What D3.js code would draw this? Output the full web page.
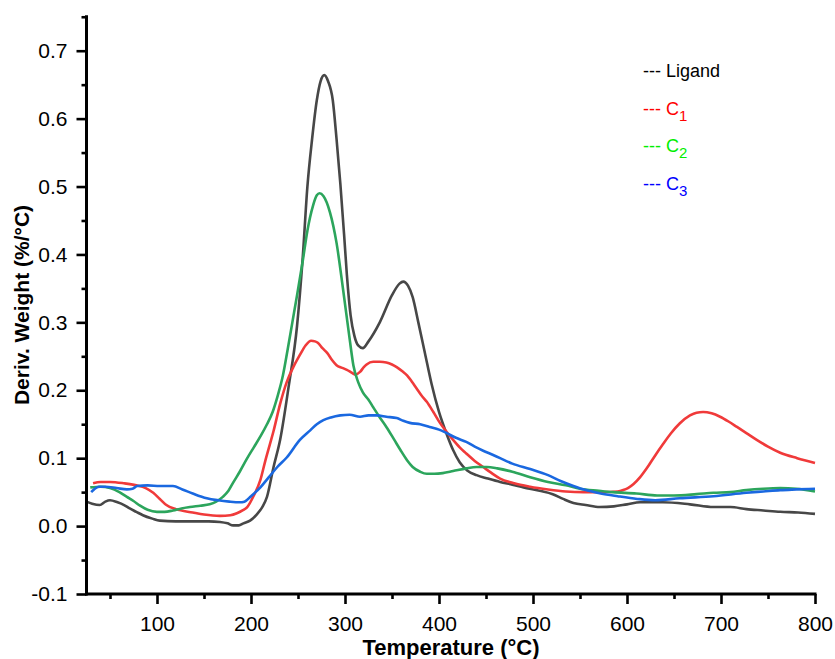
<!DOCTYPE html>
<html>
<head>
<meta charset="utf-8">
<script src="https://cdn.jsdelivr.net/npm/d3@7"></script>
<style>
  html, body { margin: 0; padding: 0; background: #fff; }
  svg { display: block; font-family: "Liberation Sans", Arial, sans-serif; }
</style>
</head>
<body>
<svg id="chart" width="835" height="659"></svg>
<script>
// ---------- DATA ----------
const ligandT = [25, 31, 39, 45, 50, 58, 65, 71, 78, 85, 95, 103, 120, 138, 155, 167, 175, 181, 187, 192, 199, 206, 212, 217, 224, 231, 240, 249, 255, 260, 265, 270, 274, 278, 282, 287, 291, 295, 299, 302, 306, 310, 314, 319, 325, 337, 350, 358, 362, 367, 372, 378, 385, 392, 400, 408, 415, 422, 430, 440, 452, 465, 478, 490, 507, 521, 532, 543, 556, 571, 586, 600, 614, 638, 667, 692, 710, 727, 745, 763, 782, 800];
const ligandV = [0.036, 0.033, 0.031, 0.036, 0.038, 0.035, 0.031, 0.026, 0.021, 0.016, 0.011, 0.008, 0.007, 0.007, 0.007, 0.006, 0.004, 0.001, 0.001, 0.004, 0.008, 0.017, 0.028, 0.043, 0.087, 0.127, 0.205, 0.295, 0.395, 0.500, 0.570, 0.627, 0.655, 0.664, 0.655, 0.627, 0.570, 0.505, 0.430, 0.370, 0.310, 0.280, 0.266, 0.262, 0.272, 0.300, 0.340, 0.357, 0.360, 0.354, 0.337, 0.300, 0.255, 0.210, 0.168, 0.136, 0.112, 0.094, 0.082, 0.075, 0.070, 0.065, 0.061, 0.057, 0.052, 0.047, 0.040, 0.034, 0.031, 0.028, 0.029, 0.032, 0.035, 0.035, 0.032, 0.028, 0.028, 0.025, 0.023, 0.021, 0.020, 0.018];

const c1T = [32, 40, 50, 65, 78, 88, 96, 103, 110, 120, 138, 150, 167, 178, 185, 191, 196, 203, 210, 215, 220, 224, 231, 238, 245, 252, 258, 264, 268, 271, 276, 281, 286, 291, 297, 302, 307, 311, 316, 320, 323, 330, 337, 344, 350, 355, 361, 366, 371, 376, 381, 387, 394, 401, 408, 415, 422, 429, 438, 447, 455, 465, 480, 497, 516, 535, 554, 573, 590, 596, 601, 607, 614, 621, 630, 638, 647, 656, 667, 674, 681, 690, 699, 708, 717, 727, 738, 750, 763, 781, 800];
const c1V = [0.063, 0.065, 0.065, 0.063, 0.060, 0.056, 0.049, 0.040, 0.031, 0.025, 0.020, 0.017, 0.015, 0.016, 0.019, 0.023, 0.028, 0.045, 0.068, 0.095, 0.120, 0.140, 0.180, 0.212, 0.234, 0.252, 0.266, 0.273, 0.272, 0.270, 0.262, 0.255, 0.245, 0.237, 0.233, 0.230, 0.226, 0.223, 0.227, 0.234, 0.238, 0.242, 0.242, 0.241, 0.238, 0.234, 0.228, 0.222, 0.213, 0.203, 0.193, 0.183, 0.168, 0.152, 0.139, 0.127, 0.116, 0.107, 0.096, 0.087, 0.079, 0.070, 0.063, 0.058, 0.054, 0.051, 0.050, 0.050, 0.051, 0.053, 0.056, 0.062, 0.072, 0.085, 0.104, 0.120, 0.137, 0.151, 0.163, 0.167, 0.168, 0.166, 0.161, 0.154, 0.146, 0.137, 0.127, 0.117, 0.108, 0.100, 0.093];

const c2T = [29, 40, 50, 60, 68, 75, 82, 90, 100, 108, 117, 126, 135, 146, 156, 163, 170, 176, 181, 188, 196, 203, 210, 217, 223, 228, 234, 239, 244, 249, 255, 260, 266, 270, 273, 277, 284, 291, 298, 305, 309, 314, 319, 325, 330, 337, 344, 352, 359, 366, 372, 380, 387, 395, 404, 415, 429, 440, 451, 462, 478, 497, 516, 535, 550, 570, 585, 610, 632, 650, 674, 692, 710, 727, 745, 763, 780, 800];
const c2V = [0.057, 0.058, 0.056, 0.050, 0.043, 0.037, 0.030, 0.024, 0.021, 0.021, 0.023, 0.026, 0.028, 0.030, 0.032, 0.036, 0.043, 0.052, 0.064, 0.080, 0.100, 0.116, 0.132, 0.150, 0.168, 0.190, 0.222, 0.260, 0.300, 0.340, 0.390, 0.435, 0.472, 0.487, 0.490, 0.486, 0.462, 0.417, 0.348, 0.275, 0.236, 0.212, 0.197, 0.186, 0.175, 0.160, 0.146, 0.128, 0.112, 0.097, 0.087, 0.080, 0.077, 0.077, 0.078, 0.081, 0.085, 0.087, 0.087, 0.085, 0.080, 0.072, 0.065, 0.060, 0.055, 0.052, 0.050, 0.048, 0.045, 0.045, 0.047, 0.049, 0.050, 0.053, 0.055, 0.056, 0.055, 0.051];

const c3T = [30, 33, 38, 45, 57, 68, 74, 79, 90, 103, 117, 127, 138, 153, 165, 177, 188, 193, 200, 210, 219, 228, 238, 252, 263, 270, 277, 285, 295, 305, 316, 325, 334, 344, 355, 362, 369, 380, 390, 400, 408, 418, 429, 438, 447, 457, 465, 478, 497, 516, 530, 543, 556, 572, 590, 611, 630, 656, 692, 727, 745, 763, 780, 800];
const c3V = [0.050, 0.054, 0.058, 0.058, 0.056, 0.054, 0.055, 0.059, 0.060, 0.059, 0.059, 0.054, 0.048, 0.041, 0.038, 0.036, 0.035, 0.036, 0.044, 0.057, 0.072, 0.087, 0.101, 0.127, 0.141, 0.150, 0.156, 0.160, 0.163, 0.164, 0.161, 0.163, 0.163, 0.161, 0.159, 0.155, 0.152, 0.150, 0.146, 0.142, 0.137, 0.130, 0.124, 0.117, 0.111, 0.105, 0.100, 0.092, 0.084, 0.075, 0.066, 0.059, 0.053, 0.048, 0.044, 0.040, 0.038, 0.041, 0.044, 0.049, 0.051, 0.053, 0.054, 0.055];

const seriesNames = ["Ligand", "C1", "C2", "C3"];
const lineColors = ["#474747", "#f03a3a", "#2ca55c", "#1a68e0"];
const legendColors = ["#000000", "#ff0000", "#00ee00", "#0000ff"];

const xMajorTicks = [100, 200, 300, 400, 500, 600, 700, 800];
const xMinorTicks = [50, 150, 250, 350, 450, 550, 650, 750];
const yMajorTicks = [-0.1, 0.0, 0.1, 0.2, 0.3, 0.4, 0.5, 0.6, 0.7];
const yMinorTicks = [-0.05, 0.05, 0.15, 0.25, 0.35, 0.45, 0.55, 0.65, 0.75];

const xTitle = "Temperature (°C)";
const yTitle = "Deriv. Weight (%/°C)";

// ---------- CHART ----------
const svg = d3.select("#chart");
const x = d3.scaleLinear().domain([25, 800]).range([86.5, 815]);
const y = d3.scaleLinear().domain([-0.1, 0.75]).range([594, 16.75]);

const seriesData = [
  d3.zip(ligandT, ligandV),
  d3.zip(c1T, c1V),
  d3.zip(c2T, c2V),
  d3.zip(c3T, c3V)
];

const line = d3.line()
  .x(d => x(d[0]))
  .y(d => y(d[1]))
  .curve(d3.curveMonotoneX);

const gLines = svg.append("g");
[0, 1, 2, 3].forEach(i => {
  gLines.append("path")
    .datum(seriesData[i])
    .attr("fill", "none")
    .attr("stroke", lineColors[i])
    .attr("stroke-width", 2.6)
    .attr("stroke-linejoin", "round")
    .attr("d", line);
});

// Axes
const fmtY = v => d3.format(".1f")(v).replace("\u2212", "-");
const xAxisG = svg.append("g").attr("transform", `translate(0,${y(-0.1)})`);
xAxisG.call(d3.axisBottom(x).tickValues(xMajorTicks).tickSize(10).tickPadding(12).tickFormat(d3.format("d")));
const xMinorG = svg.append("g").attr("transform", `translate(0,${y(-0.1)})`);
xMinorG.call(d3.axisBottom(x).tickValues(xMinorTicks).tickSize(5).tickFormat(""));

const yAxisG = svg.append("g").attr("transform", `translate(${x(25)},0)`);
yAxisG.call(d3.axisLeft(y).tickValues(yMajorTicks).tickSize(10).tickPadding(9).tickFormat(fmtY));
const yMinorG = svg.append("g").attr("transform", `translate(${x(25)},0)`);
yMinorG.call(d3.axisLeft(y).tickValues(yMinorTicks).tickSize(5).tickFormat(""));

[xAxisG, xMinorG, yAxisG, yMinorG].forEach(g => {
  g.selectAll(".domain").attr("stroke", "#000").attr("stroke-width", 3);
  g.selectAll(".tick line").attr("stroke", "#000").attr("stroke-width", 2.6);
  g.selectAll(".tick text").attr("fill", "#000").style("font-size", "21px").style("font-family", "'Liberation Sans', Arial, sans-serif");
});
[xMinorG, yMinorG].forEach(g => g.select(".domain").remove());
xAxisG.select(".domain").attr("d", `M${x(25) - 1.5},0H${x(800) + 1.5}`);
yAxisG.select(".domain").attr("d", `M0,${y(-0.1) + 1.5}V${y(0.75) - 1.5}`);

// Axis titles
svg.append("text")
  .attr("x", 451).attr("y", 655)
  .attr("text-anchor", "middle")
  .style("font-size", "22px").style("font-weight", "bold")
  .text(xTitle);

svg.append("text")
  .attr("transform", "translate(29,305) rotate(-90)")
  .attr("text-anchor", "middle")
  .style("font-size", "21px").style("font-weight", "bold")
  .text(yTitle);

// Legend
const legend = svg.append("g").attr("transform", "translate(643,77)");
const legendLabels = [["Ligand", ""], ["C", "1"], ["C", "2"], ["C", "3"]];
legendLabels.forEach((lab, i) => {
  const t = legend.append("text")
    .attr("x", 0).attr("y", i * 37.6)
    .attr("fill", legendColors[i])
    .style("font-size", "18px");
  t.append("tspan").text("--- " + lab[0]);
  if (lab[1]) {
    t.append("tspan").attr("dy", 6).style("font-size", "15px").text(lab[1]);
  }
});
</script>
</body>
</html>
